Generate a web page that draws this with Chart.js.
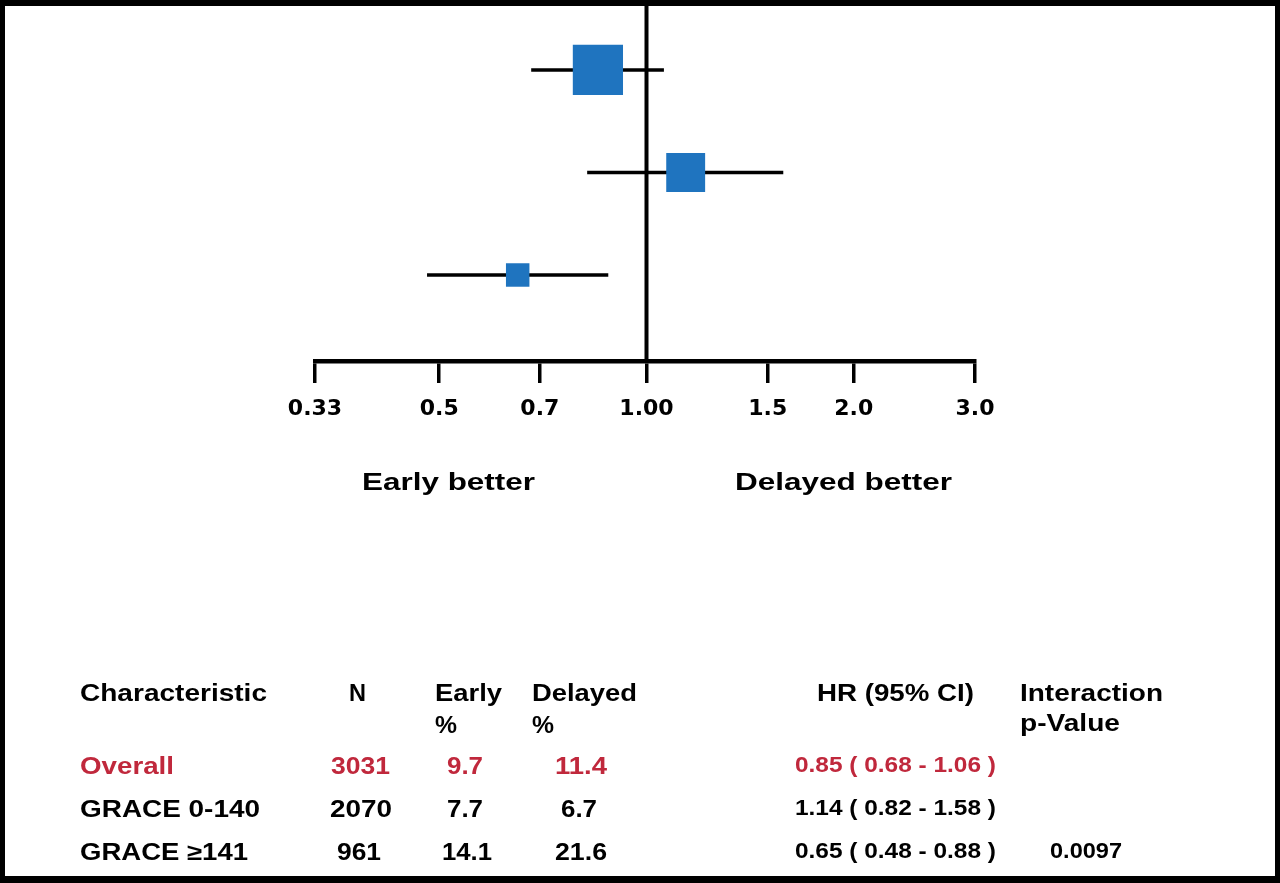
<!DOCTYPE html>
<html>
<head>
<meta charset="utf-8">
<script src="https://cdn.jsdelivr.net/npm/chart.js@4.4.1/dist/chart.umd.min.js"></script>
<style>
  html, body { margin: 0; padding: 0; background: #fff; }
  #wrap { position: relative; width: 1280px; height: 883px; overflow: hidden; }
  #forest { position: absolute; left: 0; top: 0; }
  #frame {
    position: absolute; left: 0; top: 0; width: 1280px; height: 883px;
    box-sizing: border-box; border-style: solid; border-color: #000;
    border-width: 6px 5px 7px 5px; pointer-events: none;
  }
  .txt {
    position: absolute; white-space: pre; line-height: 1;
    font-family: "Liberation Sans", Arial, sans-serif; font-weight: bold;
    transform-origin: 0 0;
  }
</style>
</head>
<body>
<div id="wrap">
  <canvas id="forest" width="1280" height="883"></canvas>
  <div id="frame"></div>
</div>
<script>
// rows of the forest plot
const rows = ['Overall', 'GRACE 0-140', 'GRACE \u2265141'];
const nPatients = [3031, 2070, 961];
const earlyPct = [9.7, 7.7, 14.1];
const delayedPct = [11.4, 6.7, 21.6];
const hr = [0.85, 1.14, 0.65];
const ciLow = [0.68, 0.82, 0.48];
const ciHigh = [1.06, 1.58, 0.88];
const pInteraction = ['', '', '0.0097'];

// x axis (hazard ratio, log scale)
const tickValues = [0.33, 0.5, 0.7, 1, 1.5, 2, 3];
const tickLabels = ['0.33', '0.5', '0.7', '1.00', '1.5', '2.0', '3.0'];

const blue = '#1f74bf';
const red = '#c0283c';

// whiskers + reference line, drawn with the chart's own scales
const forestLines = {
    id: 'forestLines',
    beforeDatasetsDraw(chart) {
        const ctx = chart.ctx;
        const x = chart.scales.x;
        const y = chart.scales.y;
        ctx.save();
        ctx.strokeStyle = '#000';
        ctx.lineCap = 'butt';
        ctx.lineWidth = 3.5;
        for (let i = 0; i < hr.length; i++) {
            const py = y.getPixelForValue(i + 1);
            ctx.beginPath();
            ctx.moveTo(x.getPixelForValue(ciLow[i]), py);
            ctx.lineTo(x.getPixelForValue(ciHigh[i]), py);
            ctx.stroke();
        }
        ctx.restore();
    },
    afterDatasetsDraw(chart) {
        const ctx = chart.ctx;
        const px = chart.scales.x.getPixelForValue(1);
        ctx.save();
        ctx.strokeStyle = '#000';
        ctx.lineWidth = 4;
        ctx.beginPath();
        ctx.moveTo(px, 0);
        ctx.lineTo(px, chart.chartArea.bottom);
        ctx.stroke();
        ctx.restore();
    }
};

const points = hr.map((v, i) => ({ x: v, y: i + 1 }));

new Chart(document.getElementById('forest'), {
    type: 'scatter',
    data: {
        datasets: [{
            data: points,
            pointStyle: 'rect',
            pointRadius: [35.5, 27.5, 16.6],
            pointHoverRadius: [35.5, 27.5, 16.6],
            backgroundColor: blue,
            borderColor: blue,
            borderWidth: 0,
            clip: false
        }]
    },
    options: {
        responsive: false,
        animation: false,
        events: [],
        layout: { autoPadding: false, padding: { left: 315, right: 305, top: 6, bottom: 0 } },
        plugins: { legend: { display: false }, tooltip: { enabled: false } },
        scales: {
            x: {
                type: 'logarithmic',
                bounds: 'data',
                min: 0.33,
                max: 3,
                afterBuildTicks: (scale) => {
                    scale.ticks = tickValues.map(v => ({ value: v }));
                },
                afterFit: (scale) => { scale.height = 883 - 361; },
                border: { display: true, color: '#000', width: 4.5 },
                grid: {
                    display: true,
                    drawOnChartArea: false,
                    drawTicks: true,
                    tickLength: 22,
                    tickColor: '#000',
                    lineWidth: 3.5
                },
                ticks: {
                    autoSkip: false,
                    maxRotation: 0,
                    padding: 13,
                    color: '#000',
                    font: { family: 'DejaVu Sans', weight: 'bold', size: 22 },
                    callback: (value, index) => tickLabels[index]
                }
            },
            y: {
                type: 'linear',
                display: false,
                bounds: 'data',
                reverse: true,
                min: 0.376,
                max: 3.839
            }
        }
    },
    plugins: [forestLines]
});

// text below the plot: [text, left, right, baseline, size, color]
const fmt2 = v => v.toFixed(2);
const texts = [
    ['Early better', 362, 535, 490, 24, '#000'],
    ['Delayed better', 735, 952, 490, 24, '#000'],
    ['Characteristic', 80, 267, 701, 23, '#000'],
    ['N', 349, 366, 701, 23, '#000'],
    ['Early', 435, 502, 701, 23, '#000'],
    ['%', 435, 457, 733, 23, '#000'],
    ['Delayed', 532, 637, 701, 23, '#000'],
    ['%', 532, 554, 733, 23, '#000'],
    ['HR (95% CI)', 817, 974, 701, 23, '#000'],
    ['Interaction', 1020, 1163, 701, 23, '#000'],
    ['p-Value', 1020, 1120, 731, 23, '#000']
];
const rowBase = [774, 817, 860];
const labelRight = [174, 260, 248];
const nPos = [[331, 390], [330, 392], [337, 381]];
const ePos = [[447, 483], [447, 483], [442, 492]];
const dPos = [[555, 607], [561, 597], [555, 607]];
rows.forEach((r, i) => {
    const c = i === 0 ? red : '#000';
    const b = rowBase[i];
    texts.push([r, 80, labelRight[i], b, 23, c]);
    texts.push([String(nPatients[i]), nPos[i][0], nPos[i][1], b, 23, c]);
    texts.push([earlyPct[i].toFixed(1), ePos[i][0], ePos[i][1], b, 23, c]);
    texts.push([delayedPct[i].toFixed(1), dPos[i][0], dPos[i][1], b, 23, c]);
    texts.push([fmt2(hr[i]) + ' ( ' + fmt2(ciLow[i]) + ' - ' + fmt2(ciHigh[i]) + ' )', 795, 996, b - 1.5, 22, c]);
    if (pInteraction[i]) texts.push([pInteraction[i], 1050, 1122, b - 1.5, 22, c]);
});

const wrap = document.getElementById('wrap');
texts.forEach(([t, l, r, base, size, color]) => {
    const el = document.createElement('div');
    el.className = 'txt';
    el.textContent = t;
    el.style.fontSize = size + 'px';
    el.style.color = color;
    el.style.left = l + 'px';
    el.style.top = (base - 0.8465 * size) + 'px';
    wrap.appendChild(el);
    const w = el.getBoundingClientRect().width;
    el.style.transform = 'scaleX(' + ((r - l) / w).toFixed(3) + ')';
});
</script>
</body>
</html>
